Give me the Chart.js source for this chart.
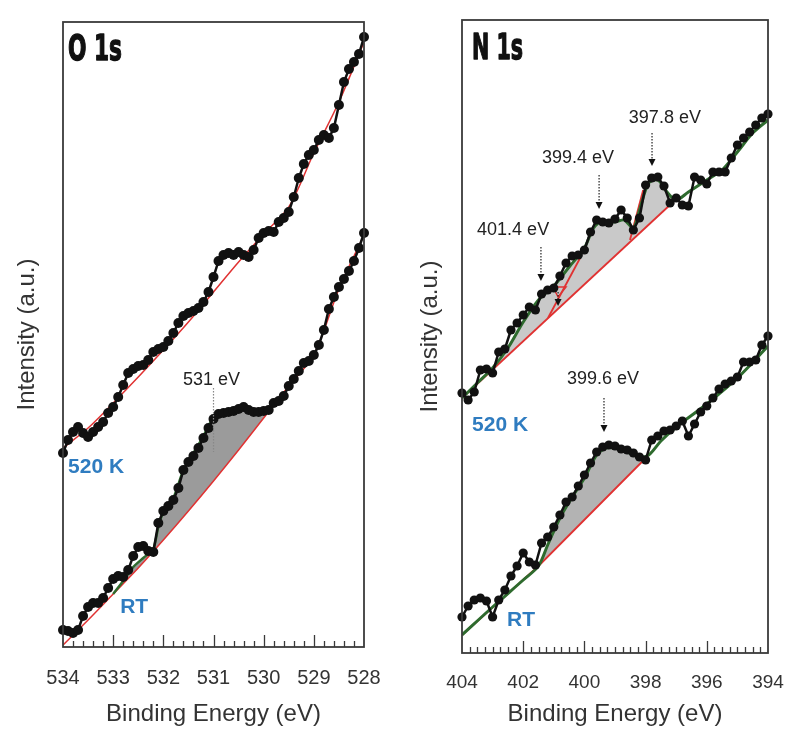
<!DOCTYPE html>
<html>
<head>
<meta charset="utf-8">
<script src="https://cdn.jsdelivr.net/npm/chart.js@4.4.1/dist/chart.umd.min.js"></script>
<style>
  html, body { margin: 0; padding: 0; background: #fff; }
  #wrap { position: relative; width: 800px; height: 739px; }
  .panel { position: absolute; top: 0; width: 400px; height: 739px; }
</style>
</head>
<body>
<div id="wrap">
  <div class="panel" style="left:0"><canvas id="o1s" width="400" height="739"></canvas></div>
  <div class="panel" style="left:400px"><canvas id="n1s" width="400" height="739"></canvas></div>
</div>
<script>
// ---- O 1s ----
var o1sTicks = [534, 533, 532, 531, 530, 529, 528];
var o1sE = [534.0, 533.9, 533.8, 533.7, 533.6, 533.5, 533.4, 533.3, 533.2, 533.1,
            533.0, 532.9, 532.8, 532.7, 532.6, 532.5, 532.4, 532.3, 532.2, 532.1,
            532.0, 531.9, 531.8, 531.7, 531.6, 531.5, 531.4, 531.3, 531.2, 531.1,
            531.0, 530.9, 530.8, 530.7, 530.6, 530.5, 530.4, 530.3, 530.2, 530.1,
            530.0, 529.9, 529.8, 529.7, 529.6, 529.5, 529.4, 529.3, 529.2, 529.1,
            529.0, 528.9, 528.8, 528.7, 528.6, 528.5, 528.4, 528.3, 528.2, 528.1, 528.0];
var o1s520 = [194, 207, 215, 220, 214, 210, 215, 220, 225, 234,
              240, 250, 262, 274, 278, 281, 282, 287, 295, 298,
              300, 306, 314, 324, 331, 334, 336, 339, 345, 355,
              370, 386, 392, 394, 392, 395, 392, 390, 397, 409,
              414, 416, 415, 425, 429, 435, 450, 469, 483, 492,
              497, 507, 512, 509, 519, 542, 565, 578, 585, 593, 610];
var o1sRT = [17, 16, 14, 17, 31, 40, 44, 44, 49, 59,
             68, 71, 70, 77, 91, 100, 101, 96, 95, 124,
             136, 141, 147, 159, 177, 185, 191, 199, 209, 219,
             228, 233, 234, 235, 236, 238, 240, 237, 235, 235,
             236, 237, 244, 246, 251, 261, 268, 276, 284, 286,
             292, 302, 317, 338, 350, 360, 368, 376, 386, 399, 414];
var o1sBgE = [534, 533.5, 533, 532.5, 532, 531.5, 531, 530.5, 530, 529.5, 529, 528.5, 528];
var o1s520Bg = [199, 219, 244, 270, 297, 325, 355, 385, 413, 440, 494, 545, 605];
var o1sRtBg = [2, 27, 53, 79, 107, 136, 166, 197, 229, 261, 292, 358, 412];
var o1sRtFitE = [533.0, 532.8, 532.6, 532.4, 532.2, 532.1, 532.0, 531.8, 531.6, 531.4,
                 531.2, 531.0, 530.8, 530.6, 530.4, 530.2, 530.0, 529.8];
var o1sRtFit = [53, 66, 80, 89, 98, 120, 135, 149, 177, 194,
                211, 230, 235, 239, 240, 237, 236, 242];

// ---- N 1s ----
var n1sTicks = [404, 402, 400, 398, 396, 394];
var n1sE = [404.0, 403.8, 403.6, 403.4, 403.2, 403.0, 402.8, 402.6, 402.4, 402.2,
            402.0, 401.8, 401.6, 401.4, 401.2, 401.0, 400.8, 400.6, 400.4, 400.2,
            400.0, 399.8, 399.6, 399.4, 399.2, 399.0, 398.8, 398.6, 398.4, 398.2,
            398.0, 397.8, 397.6, 397.4, 397.2, 397.0, 396.8, 396.6, 396.4, 396.2,
            396.0, 395.8, 395.6, 395.4, 395.2, 395.0, 394.8, 394.6, 394.4, 394.2, 394.0];
var n1s520 = [260, 253, 261, 283, 284, 280, 301, 304, 323, 330,
              338, 346, 343, 359, 363, 365, 377, 390, 397, 398,
              403, 421, 433, 431, 430, 434, 443, 435, 423, 435,
              468, 475, 476, 467, 450, 455, 448, 447, 476, 473,
              469, 481, 481, 481, 495, 508, 515, 521, 528, 535, 539];
var n1sRT = [36, 47, 53, 55, 52, 36, 53, 63, 77, 87,
             100, 91, 88, 110, 116, 126, 138, 151, 156, 167,
             178, 190, 201, 206, 208, 207, 204, 203, 200, 196,
             193, 213, 217, 222, 223, 227, 232, 217, 229, 241,
             247, 255, 264, 269, 272, 276, 291, 291, 293, 308, 317];
var n1s520FitE = [404.0, 403.5, 403.0, 402.5, 402.0, 401.5, 401.0, 400.5, 400.0, 399.7,
                  399.4, 399.0, 398.7, 398.4, 398.2, 397.9, 397.6, 397.3, 397.0, 396.6,
                  396.0, 395.5, 395.0, 394.5, 394.0];
var n1s520Fit = [255, 270, 285, 305, 331, 353, 367, 386, 405, 425,
                 432, 431, 433, 425, 443, 470, 473, 461, 453, 461,
                 473, 483, 501, 520, 533];
var n1s520BgE = [404.0, 397.1];
var n1s520Bg = [255, 451];
var n1sComp1E = [401.19, 400.14];
var n1sComp1 = [335, 395];
var n1sComp2E = [398.51, 398.08];
var n1sComp2 = [413, 463];
var n1sComp3E = [401.03, 400.60, 400.86, 401.03];
var n1sComp3 = [366, 366, 356, 366];
var n1sRtFitE = [404.0, 403.0, 402.0, 401.5, 401.2, 400.8, 400.4, 400.0, 399.6, 399.3,
                 399.0, 398.6, 398.2, 397.9, 397.5, 397.0, 396.0, 395.0, 394.0];
var n1sRtFit = [18, 46, 73, 87, 108, 135, 156, 175, 198, 205,
                205, 201, 196, 198, 212, 226, 249, 275, 307];
var n1sRtBgE = [404.0, 401.5, 397.8];
var n1sRtBg = [18, 87, 201];

var BLACK = '#111', RED = '#e03232', GREEN = '#2e6b2e', BLUE = '#2f7cc0', TXT = '#333';

Chart.defaults.font.family = '"Liberation Sans", Arial, Helvetica, sans-serif';

function pts(xs, ys) {
  return xs.map(function (x, i) { return { x: x, y: ys[i] }; });
}

function dataSet(xs, ys, r) {
  return { data: pts(xs, ys), borderColor: BLACK, borderWidth: 2.5, tension: 0,
           pointRadius: r, pointBackgroundColor: BLACK, pointBorderWidth: 0, clip: 6 };
}

function lineSet(xs, ys, color, w, tension, fill) {
  return { data: pts(xs, ys), borderColor: color, borderWidth: w, tension: tension,
           pointRadius: 0, fill: fill || false };
}

// box, inward ticks and the text notes
function framePlugin(p) {
  return {
    id: 'frame',
    afterDatasetsDraw: function (chart) {
      var ctx = chart.ctx, a = chart.chartArea;
      var xs = chart.scales.x, ys = chart.scales.y;
      ctx.save();
      ctx.strokeStyle = '#3a3a3a';
      ctx.lineWidth = 1.3;
      var n = Math.round((p.max - p.min) / p.minor);
      ctx.beginPath();
      for (var i = 1; i < n; i++) {
        var v = p.min + i * p.minor;
        var r = v / p.major;
        var len = Math.abs(r - Math.round(r)) < 1e-6 ? 12 : 6;
        var x = Math.round(xs.getPixelForValue(v)) + 0.5;
        ctx.moveTo(x, a.bottom);
        ctx.lineTo(x, a.bottom - len);
      }
      ctx.stroke();
      ctx.lineWidth = 1.8;
      ctx.strokeRect(a.left, a.top, a.right - a.left, a.bottom - a.top);

      p.notes.forEach(function (nt) {
        var px = xs.getPixelForValue(nt.e);
        if (nt.kind === 'title') {
          ctx.font = 'bold 36px "DejaVu Sans", sans-serif';
          ctx.fillStyle = '#111';
          ctx.strokeStyle = '#111';
          ctx.lineWidth = 1.4;
          ctx.lineJoin = 'round';
          ctx.textBaseline = 'alphabetic';
          ctx.textAlign = 'left';
          var w = ctx.measureText(nt.text).width;
          ctx.save();
          ctx.translate(px, ys.getPixelForValue(nt.i));
          ctx.scale(nt.width / w, 1);
          ctx.fillText(nt.text, 0, 0);
          ctx.strokeText(nt.text, 0, 0);
          ctx.restore();
        } else if (nt.kind === 'label') {
          ctx.font = nt.font;
          ctx.fillStyle = nt.color;
          ctx.textAlign = nt.align;
          ctx.textBaseline = 'middle';
          ctx.fillText(nt.text, px, ys.getPixelForValue(nt.i));
        } else if (nt.kind === 'arrow') {
          var y1 = ys.getPixelForValue(nt.from), y2 = ys.getPixelForValue(nt.to);
          ctx.save();
          ctx.strokeStyle = nt.color || '#222';
          ctx.lineWidth = 1.2;
          ctx.setLineDash([1.5, 1.5]);
          ctx.beginPath();
          ctx.moveTo(px, y1);
          ctx.lineTo(px, y2);
          ctx.stroke();
          ctx.restore();
          if (nt.head) {
            var yt = ys.getPixelForValue(nt.head);
            ctx.fillStyle = '#111';
            ctx.beginPath();
            ctx.moveTo(px, yt);
            ctx.lineTo(px - 3.5, yt - 7);
            ctx.lineTo(px + 3.5, yt - 7);
            ctx.closePath();
            ctx.fill();
          }
        }
      });
      ctx.restore();
    }
  };
}

function axes(xMin, xMax, ticks, xH, yW, yMax, tickSize, tickPad, yTitlePad) {
  return {
    x: {
      type: 'linear', min: xMin, max: xMax, reverse: true,
      afterBuildTicks: function (s) { s.ticks = ticks.map(function (v) { return { value: v }; }); },
      afterFit: function (s) { s.height = xH; },
      grid: { display: false }, border: { display: false },
      ticks: { font: { size: tickSize }, color: TXT, padding: tickPad, maxRotation: 0, autoSkip: false },
      title: { display: true, text: 'Binding Energy (eV)', font: { size: 24 }, color: TXT,
               padding: { top: 0, bottom: 10.6 } }
    },
    y: {
      type: 'linear', min: 0, max: yMax,
      afterFit: function (s) { s.width = yW; },
      grid: { display: false }, border: { display: false },
      ticks: { display: false },
      title: { display: true, text: 'Intensity (a.u.)', font: { size: 24 }, color: TXT,
               padding: { top: yTitlePad, bottom: 0 } }
    }
  };
}

var common = {
  responsive: false, animation: false, events: [],
  plugins: { legend: { display: false }, tooltip: { enabled: false },
             filler: { drawTime: 'beforeDatasetsDraw' } }
};

// left panel
new Chart(document.getElementById('o1s'), {
  type: 'line',
  data: {
    datasets: [
      dataSet(o1sE, o1s520, 5),
      dataSet(o1sE, o1sRT, 5),
      lineSet(o1sRtFitE, o1sRtFit, GREEN, 2.5, 0.2,
              { target: 4, above: '#9b9b9b', below: 'rgba(0,0,0,0)' }),
      lineSet(o1sBgE, o1s520Bg, RED, 1.5, 0.3),
      lineSet(o1sBgE, o1sRtBg, RED, 1.5, 0.3)
    ]
  },
  options: Object.assign({}, common, {
    layout: { padding: { top: 22, right: 36, bottom: 0, left: 0 } },
    scales: axes(528, 534, o1sTicks, 92, 63, 625, 20, 11, 12.6)
  }),
  plugins: [framePlugin({
    min: 528, max: 534, minor: 0.2, major: 1,
    notes: [
      { kind: 'title', e: 533.9, i: 587, text: 'O 1s', width: 54 },
      { kind: 'label', e: 531.04, i: 267, text: '531 eV', font: '18px "Liberation Sans", Arial', color: '#222', align: 'center' },
      { kind: 'arrow', e: 531.0, from: 259, to: 195, color: '#888' },
      { kind: 'label', e: 533.9, i: 180, text: '520 K', font: 'bold 21px "Liberation Sans", Arial', color: BLUE, align: 'left' },
      { kind: 'label', e: 532.86, i: 40, text: 'RT', font: 'bold 21px "Liberation Sans", Arial', color: BLUE, align: 'left' }
    ]
  })]
});

// right panel
new Chart(document.getElementById('n1s'), {
  type: 'line',
  data: {
    datasets: [
      dataSet(n1sE, n1s520, 4.6),
      dataSet(n1sE, n1sRT, 4.6),
      lineSet(n1s520FitE, n1s520Fit, GREEN, 3, 0.3,
              { target: 4, above: '#c9c9c9', below: 'rgba(0,0,0,0)' }),
      lineSet(n1sRtFitE, n1sRtFit, GREEN, 3, 0.3,
              { target: 5, above: '#b3b3b3', below: 'rgba(0,0,0,0)' }),
      lineSet(n1s520BgE, n1s520Bg, RED, 1.8, 0),
      lineSet(n1sRtBgE, n1sRtBg, RED, 1.8, 0),
      lineSet(n1sComp1E, n1sComp1, RED, 1.8, 0),
      lineSet(n1sComp2E, n1sComp2, RED, 1.8, 0),
      lineSet(n1sComp3E, n1sComp3, RED, 1.5, 0)
    ]
  },
  options: Object.assign({}, common, {
    layout: { padding: { top: 20, right: 32, bottom: 0, left: 0 } },
    scales: axes(394, 404, n1sTicks, 86, 62, 633, 19, 10, 15.6)
  }),
  plugins: [framePlugin({
    min: 394, max: 404, minor: 0.25, major: 2,
    notes: [
      { kind: 'title', e: 403.67, i: 594, text: 'N 1s', width: 51 },
      { kind: 'label', e: 397.37, i: 535, text: '397.8 eV', font: '18px "Liberation Sans", Arial', color: '#222', align: 'center' },
      { kind: 'arrow', e: 397.79, from: 520, to: 493, head: 487 },
      { kind: 'label', e: 400.21, i: 495, text: '399.4 eV', font: '18px "Liberation Sans", Arial', color: '#222', align: 'center' },
      { kind: 'arrow', e: 399.52, from: 478, to: 450, head: 444 },
      { kind: 'label', e: 402.33, i: 423, text: '401.4 eV', font: '18px "Liberation Sans", Arial', color: '#222', align: 'center' },
      { kind: 'arrow', e: 401.42, from: 406, to: 378, head: 372 },
      { kind: 'arrow', e: 400.86, from: 361, to: 352, head: 347 },
      { kind: 'label', e: 399.39, i: 274, text: '399.6 eV', font: '18px "Liberation Sans", Arial', color: '#222', align: 'center' },
      { kind: 'arrow', e: 399.36, from: 255, to: 227, head: 221 },
      { kind: 'label', e: 403.67, i: 228, text: '520 K', font: 'bold 21px "Liberation Sans", Arial', color: BLUE, align: 'left' },
      { kind: 'label', e: 402.53, i: 33, text: 'RT', font: 'bold 21px "Liberation Sans", Arial', color: BLUE, align: 'left' }
    ]
  })]
});
</script>
</body>
</html>
